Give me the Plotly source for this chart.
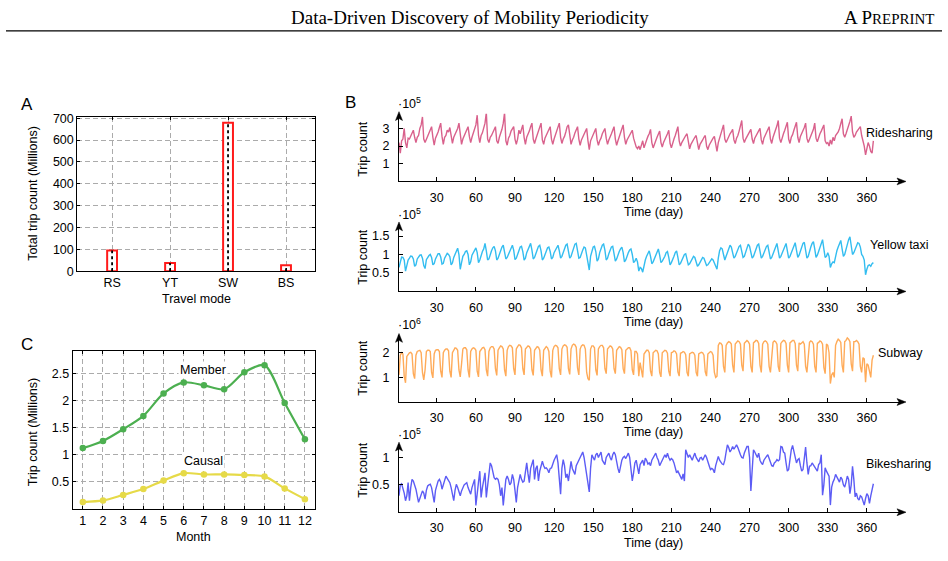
import plotly.graph_objects as go

W, H = 948, 561

# ---- panel A: total trips per mode (millions)
modes = ["RS", "YT", "SW", "BS"]
total_trips = [95, 37, 679, 27]

# ---- panel C: monthly bike trips (millions)
months = list(range(1, 13))
member = [1.125, 1.257, 1.473, 1.719, 2.134, 2.338, 2.284, 2.212, 2.524, 2.656, 1.959, 1.287]
causal = [0.128, 0.158, 0.26, 0.368, 0.524, 0.662, 0.638, 0.638, 0.626, 0.602, 0.38, 0.182]

# ---- panel B: daily trip counts, one row per week (Tue..Mon)
days = list(range(1, 366))
day_ticks = [30, 60, 90, 120, 150, 180, 210, 240, 270, 300, 330, 360]

ridesharing = [  # x 1e5
    2.2, 1.6, 2.3, 2.4, 3.0, 2.2, 1.9,
    2.45, 2.4, 2.6, 2.7, 2.9, 2.5, 2.2,
    2.5, 2.6, 3.0, 3.2, 3.65, 2.4, 2.2,
    2.4, 2.5, 2.7, 2.9, 3.1, 2.5, 2.05,
    2.45, 2.6, 2.8, 3.05, 3.3, 2.55, 2.1,
    2.5, 2.6, 2.9, 2.8, 3.05, 2.5, 2.15,
    2.5, 2.65, 2.85, 3.0, 3.3, 2.5, 2.1,
    2.4, 2.6, 2.8, 2.95, 3.1, 2.55, 2.2,
    2.5, 2.7, 2.9, 3.2, 3.75, 2.6, 2.2,
    2.6, 2.75, 3.0, 3.3, 3.9, 2.4, 2.2,
    2.5, 2.6, 2.8, 2.95, 3.1, 2.3, 2.15,
    2.5, 2.7, 2.95, 3.3, 3.9, 2.3, 2.05,
    2.45, 2.6, 2.85, 3.0, 3.1, 2.4, 2.1,
    2.4, 2.9, 2.7, 3.05, 3.2, 2.5, 2.1,
    2.5, 2.65, 2.85, 3.1, 3.3, 2.4, 2.15,
    2.4, 2.6, 2.8, 3.1, 3.3, 2.35, 2.1,
    2.45, 2.6, 2.75, 2.95, 3.1, 2.4, 2.1,
    2.4, 2.6, 2.85, 3.1, 3.3, 2.5, 2.15,
    2.4, 2.55, 2.8, 3.1, 3.2, 2.45, 2.1,
    2.35, 2.5, 2.75, 2.95, 3.1, 2.4, 2.05,
    2.35, 2.5, 2.7, 2.85, 3.0, 2.3, 1.8,
    2.3, 2.5, 2.65, 2.9, 3.0, 2.35, 2.05,
    2.3, 2.45, 2.7, 2.85, 3.0, 2.45, 2.1,
    2.35, 2.5, 2.7, 2.9, 3.1, 2.4, 2.05,
    2.3, 2.55, 2.75, 3.0, 3.2, 2.5, 2.1,
    2.35, 2.5, 2.6, 2.75, 2.9, 2.45, 2.1,
    1.95, 1.85, 2.0, 1.8, 2.05, 2.3, 1.9,
    2.2, 2.35, 2.55, 2.7, 2.95, 2.2, 1.9,
    2.15, 2.3, 2.5, 2.65, 2.85, 2.2, 1.95,
    2.2, 2.35, 2.5, 2.7, 2.9, 2.15, 1.9,
    2.25, 2.4, 2.6, 2.85, 3.1, 2.3, 2.0,
    2.2, 2.35, 2.5, 2.6, 2.7, 2.1, 1.85,
    2.1, 2.25, 2.4, 2.5, 2.6, 2.05, 1.8,
    2.1, 2.2, 2.35, 2.5, 2.6, 2.0, 1.8,
    2.05, 2.2, 2.35, 2.45, 2.55, 2.0, 1.7,
    2.2, 2.5, 2.7, 2.95, 3.2, 2.4, 2.2,
    2.4, 2.5, 2.7, 2.8, 2.95, 2.35, 2.15,
    2.45, 2.6, 2.85, 3.1, 3.45, 2.45, 2.2,
    2.4, 2.55, 2.7, 2.85, 2.95, 2.4, 2.15,
    2.45, 2.6, 2.75, 2.9, 3.0, 2.35, 2.1,
    2.45, 2.6, 2.8, 2.95, 3.1, 2.4, 2.15,
    2.5, 2.7, 2.9, 3.15, 3.45, 2.45, 2.2,
    2.5, 2.7, 2.9, 3.1, 3.35, 2.4, 2.15,
    2.5, 2.65, 2.9, 3.1, 3.35, 2.5, 2.2,
    2.55, 2.7, 2.9, 3.05, 3.3, 2.45, 2.2,
    2.4, 2.55, 2.75, 2.95, 3.3, 2.45, 2.25,
    2.5, 2.7, 2.85, 3.05, 3.2, 2.3, 2.15,
    2.2, 2.0, 2.35, 2.1, 2.5, 2.3, 2.6,
    2.7, 2.8, 3.0, 3.25, 3.55, 2.7, 2.5,
    2.7, 2.9, 3.1, 3.4, 3.7, 2.8, 2.5,
    2.6, 2.8, 2.9, 3.05, 3.1, 2.6, 2.3,
    2.0, 1.5, 1.8, 2.2, 2.0, 1.7, 1.6,
    2.3,
]

yellow_taxi = [  # x 1e5
    0.65, 0.78, 0.93, 0.92, 0.85, 0.55, 0.72,
    0.85, 0.9, 0.96, 0.95, 0.88, 0.68, 0.72,
    0.88, 0.93, 0.98, 0.99, 0.9, 0.7, 0.62,
    0.86, 0.92, 0.97, 1.0, 0.92, 0.72, 0.75,
    0.88, 0.95, 1.02, 1.02, 0.93, 0.74, 0.76,
    0.9, 0.96, 1.03, 1.0, 0.94, 0.72, 0.77,
    0.92, 1.0, 1.05, 1.17, 1.0, 0.6, 0.78,
    0.95, 1.0, 1.08, 1.1, 1.0, 0.72, 0.8,
    0.98, 1.05, 1.12, 1.18, 1.05, 0.78, 0.85,
    1.0, 1.08, 1.15, 1.3, 1.1, 0.85, 0.88,
    1.02, 1.1, 1.18, 1.22, 1.1, 0.85, 0.9,
    1.02, 1.12, 1.2, 1.25, 1.1, 0.88, 0.92,
    1.0, 1.1, 1.18, 1.25, 1.12, 0.86, 0.9,
    1.02, 1.1, 1.2, 1.22, 1.08, 0.85, 0.9,
    1.05, 1.15, 1.25, 1.3, 1.12, 0.88, 0.92,
    1.05, 1.12, 1.22, 1.25, 1.1, 0.85, 0.9,
    1.0, 1.1, 1.18, 1.2, 1.08, 0.88, 0.92,
    1.05, 1.12, 1.2, 1.25, 1.1, 0.9, 0.95,
    1.05, 1.15, 1.25, 1.28, 1.12, 0.9, 0.95,
    1.08, 1.18, 1.28, 1.3, 1.12, 0.9, 0.92,
    1.05, 1.12, 1.2, 1.18, 0.98, 0.72, 0.58,
    0.95, 1.1, 1.2, 1.22, 1.08, 0.82, 0.88,
    1.05, 1.15, 1.25, 1.28, 1.12, 0.85, 0.9,
    1.02, 1.1, 1.2, 1.22, 1.05, 0.82, 0.88,
    1.0, 1.08, 1.15, 1.2, 1.05, 0.8, 0.85,
    0.98, 1.05, 1.12, 1.15, 1.0, 0.78, 0.82,
    0.9, 0.8, 0.55, 0.65, 0.62, 0.52, 0.7,
    0.85, 0.95, 1.05, 1.1, 0.95, 0.75, 0.8,
    0.9, 1.0, 1.1, 1.15, 0.98, 0.78, 0.82,
    0.88, 0.95, 1.05, 1.08, 0.92, 0.72, 0.78,
    0.85, 0.95, 1.05, 1.1, 0.92, 0.72, 0.76,
    0.85, 0.92, 1.0, 1.02, 0.88, 0.72, 0.75,
    0.82, 0.88, 0.95, 0.92, 0.82, 0.68, 0.72,
    0.8, 0.85, 0.92, 0.9, 0.8, 0.7, 0.72,
    0.78, 0.85, 0.88, 0.85, 0.75, 0.68, 0.6,
    0.9, 1.1, 1.18, 1.15, 1.0, 0.85, 0.95,
    1.05, 1.15, 1.25, 1.2, 1.05, 0.9, 0.95,
    1.05, 1.15, 1.22, 1.25, 1.1, 0.92, 0.95,
    1.05, 1.15, 1.28, 1.22, 1.05, 0.9, 0.95,
    1.05, 1.12, 1.25, 1.28, 1.1, 0.9, 0.95,
    1.05, 1.15, 1.22, 1.25, 1.08, 0.88, 0.92,
    1.02, 1.12, 1.2, 1.3, 1.1, 0.9, 0.95,
    1.05, 1.15, 1.25, 1.3, 1.1, 0.9, 0.95,
    1.05, 1.15, 1.28, 1.32, 1.12, 0.92, 0.98,
    1.08, 1.18, 1.3, 1.33, 1.12, 0.9, 0.95,
    1.1, 1.2, 1.3, 1.35, 1.15, 0.92, 0.98,
    1.1, 1.2, 1.32, 1.4, 1.15, 0.92, 0.95,
    1.05, 0.95, 0.65, 0.75, 0.8, 0.78, 1.0,
    1.1, 1.2, 1.32, 1.38, 1.15, 0.95, 1.0,
    1.15, 1.25, 1.4, 1.48, 1.25, 1.0, 1.05,
    1.15, 1.25, 1.32, 1.3, 1.2, 1.0, 0.95,
    0.85, 0.45, 0.6, 0.7, 0.72, 0.68, 0.75,
    0.78,
]

subway = [  # x 1e6
    1.1, 1.9, 2.0, 1.95, 1.05, 0.78, 1.85,
    1.95, 2.0, 2.02, 1.95, 1.15, 0.95, 1.9,
    2.05, 2.08, 2.1, 2.0, 1.2, 0.9, 1.3,
    2.05, 2.1, 2.1, 2.05, 1.2, 0.98, 1.95,
    2.1, 2.12, 2.12, 2.05, 1.25, 1.0, 2.0,
    2.1, 2.15, 2.15, 2.08, 1.25, 1.0, 2.0,
    2.1, 2.2, 2.18, 2.1, 1.3, 1.02, 1.55,
    2.15, 2.2, 2.2, 2.12, 1.3, 1.0, 2.05,
    2.15, 2.2, 2.18, 2.1, 1.25, 1.02, 2.05,
    2.15, 2.2, 2.22, 2.12, 1.3, 1.05, 2.05,
    2.2, 2.25, 2.25, 2.15, 1.35, 1.08, 2.1,
    2.2, 2.28, 2.25, 2.15, 1.3, 1.05, 2.1,
    2.25, 2.3, 2.28, 2.2, 1.35, 1.1, 2.15,
    2.25, 2.32, 2.3, 2.2, 1.35, 1.1, 2.15,
    2.22, 2.28, 2.25, 2.15, 1.3, 1.08, 2.1,
    2.2, 2.25, 2.22, 2.1, 1.3, 1.05, 2.1,
    2.2, 2.25, 2.2, 2.05, 1.25, 1.0, 2.1,
    2.25, 2.3, 2.28, 2.2, 1.35, 1.1, 2.15,
    2.28, 2.32, 2.3, 2.22, 1.35, 1.12, 2.15,
    2.3, 2.35, 2.32, 2.22, 1.38, 1.1, 2.15,
    2.28, 2.32, 2.3, 2.15, 1.2, 0.95, 0.88,
    2.15, 2.28, 2.28, 2.2, 1.3, 1.08, 2.15,
    2.25, 2.3, 2.3, 2.2, 1.35, 1.15, 2.15,
    2.22, 2.28, 2.25, 2.15, 1.35, 1.15, 2.1,
    2.2, 2.25, 2.22, 2.12, 1.35, 1.15, 2.1,
    2.15, 2.2, 2.2, 2.08, 1.3, 1.1, 2.05,
    2.05, 1.95, 1.05, 1.6, 1.2, 1.0, 1.95,
    2.05, 2.1, 2.1, 2.0, 1.25, 1.05, 2.0,
    2.05, 2.1, 2.08, 1.95, 1.2, 1.02, 2.0,
    2.05, 2.1, 2.08, 1.98, 1.25, 1.05, 2.0,
    2.02, 2.08, 2.05, 1.95, 1.22, 1.05, 1.98,
    2.0, 2.05, 2.02, 1.92, 1.2, 1.05, 1.95,
    1.98, 2.02, 2.0, 1.9, 1.2, 1.05, 1.95,
    1.98, 2.02, 2.0, 1.9, 1.22, 1.05, 1.95,
    2.0, 2.05, 2.02, 1.9, 1.2, 1.0, 1.05,
    2.3, 2.4, 2.38, 2.3, 1.45, 1.2, 2.3,
    2.4, 2.45, 2.42, 2.35, 1.5, 1.2, 2.35,
    2.42, 2.48, 2.45, 2.35, 1.5, 1.25, 2.38,
    2.45, 2.5, 2.45, 2.35, 1.45, 1.2, 2.4,
    2.45, 2.5, 2.48, 2.38, 1.5, 1.2, 2.35,
    2.45, 2.48, 2.45, 2.35, 1.45, 1.2, 2.0,
    2.42, 2.48, 2.45, 2.35, 1.45, 1.22, 2.38,
    2.45, 2.5, 2.48, 2.38, 1.5, 1.2, 2.4,
    2.45, 2.5, 2.5, 2.38, 1.5, 1.25, 2.4,
    2.35, 2.4, 2.45, 2.35, 1.45, 1.2, 1.9,
    2.42, 2.48, 2.45, 2.35, 1.45, 1.2, 2.38,
    2.42, 2.48, 2.45, 2.35, 1.4, 1.15, 2.35,
    2.3, 2.0, 0.75, 1.1, 1.2, 1.0, 2.3,
    2.45, 2.55, 2.5, 2.42, 1.5, 1.2, 2.45,
    2.5, 2.6, 2.55, 2.45, 1.55, 1.25, 2.45,
    2.45, 2.5, 2.45, 2.35, 1.45, 1.2, 1.8,
    1.75, 0.8, 1.55, 1.5, 1.15, 1.0, 1.7,
    1.9,
]

bikesharing = [  # x 1e5
    0.3, 0.5, 0.52, 0.45, 0.35, 0.21, 0.3, 0.54, 0.21, 0.45,
    0.6, 0.57, 0.5, 0.42, 0.3, 0.18, 0.25, 0.33, 0.39, 0.35,
    0.24, 0.4, 0.48, 0.5, 0.51, 0.45, 0.3, 0.18, 0.4, 0.5,
    0.57, 0.6, 0.55, 0.42, 0.5, 0.58, 0.66, 0.62, 0.58, 0.54,
    0.45, 0.35, 0.21, 0.4, 0.51, 0.45, 0.35, 0.3, 0.39, 0.45,
    0.5, 0.52, 0.54, 0.45, 0.38, 0.33, 0.45, 0.55, 0.6, 0.125,
    0.4, 0.55, 0.75, 0.27, 0.45, 0.6, 0.72, 0.27, 0.5, 0.7,
    0.9, 0.85, 0.7, 0.63, 0.6, 0.62, 0.6, 0.5, 0.3, 0.45,
    0.125, 0.4, 0.6, 0.66, 0.6, 0.5, 0.54, 0.69, 0.6, 0.4,
    0.18, 0.45, 0.6, 0.69, 0.6, 0.55, 0.57, 0.75, 0.9, 0.7,
    0.54, 0.8, 0.9, 0.96, 0.6, 0.8, 0.85, 0.57, 0.75, 0.85,
    0.93, 0.85, 0.8, 0.81, 0.78, 0.72, 0.8, 0.81, 0.9, 0.95,
    1.0, 1.05, 0.9, 0.6, 0.33, 0.8, 0.96, 0.85, 0.63, 0.7,
    0.57, 0.75, 0.93, 0.8, 0.75, 0.69, 0.85, 0.9, 0.96, 1.0,
    1.05, 1.1, 1.0, 0.85, 0.7, 0.5, 0.37, 0.8, 1.05, 1.0,
    0.95, 1.05, 1.08, 1.0, 1.05, 1.1, 0.95, 0.9, 0.87, 1.0,
    1.05, 1.08, 1.0, 0.95, 1.05, 1.1, 1.05, 0.9, 0.8, 0.72,
    0.85, 0.95, 1.0, 1.02, 0.98, 1.05, 1.08, 1.0, 0.75, 0.57,
    0.72, 0.9, 0.95, 0.8, 0.7, 0.87, 0.9, 0.95, 0.85, 0.99,
    0.95, 0.88, 0.9, 0.85, 0.95, 1.0, 1.05, 1.08, 1.0, 0.95,
    0.85, 0.9, 0.92, 1.0, 1.05, 1.0, 1.08, 1.0, 0.95, 0.98,
    0.96, 0.9, 0.8, 0.72, 0.75, 0.7, 0.66, 0.6, 0.7, 0.57,
    1.14, 1.05, 1.0, 1.05, 0.98, 0.95, 1.02, 1.08, 1.0, 0.95,
    0.92, 0.99, 1.0, 0.95, 1.0, 1.05, 1.0, 0.9, 0.85, 0.78,
    0.8, 0.78, 0.72, 0.85, 0.95, 1.02, 0.95, 0.9, 0.88, 0.87,
    0.95, 1.1, 1.23, 1.18, 1.1, 1.14, 1.2, 1.15, 1.2, 1.23,
    1.18, 1.1, 1.05, 1.0, 0.99, 1.08, 1.15, 1.2, 1.2, 1.0,
    0.39, 0.8, 1.14, 1.1, 1.05, 1.0, 1.08, 0.95, 0.9, 0.87,
    0.95, 1.0, 1.02, 1.05, 0.98, 0.9, 0.85, 0.84, 0.9, 0.92,
    0.96, 0.94, 0.96, 1.2, 1.19, 1.1, 1.08, 0.9, 0.75, 0.78,
    1.0, 1.14, 1.22, 1.1, 1.02, 0.9, 0.96, 0.98, 0.85, 0.75,
    0.78, 1.0, 1.19, 0.9, 0.69, 0.84, 0.85, 0.9, 0.86, 0.84,
    0.8, 0.75, 0.87, 0.9, 1.05, 0.31, 0.5, 0.81, 0.75, 0.7,
    0.66, 0.13, 0.46, 0.55, 0.6, 0.69, 0.65, 0.6, 0.55, 0.64,
    0.6, 0.5, 0.46, 0.55, 0.66, 0.6, 0.34, 0.5, 0.84, 0.6,
    0.28, 0.35, 0.25, 0.22, 0.3, 0.28, 0.2, 0.13, 0.25, 0.34,
    0.3, 0.16, 0.3, 0.45, 0.52,
]

FONT = "Liberation Sans, Arial, sans-serif"
SERIF = "Liberation Serif, Times New Roman, serif"
FS = 12.5


def px(x):
    return x / W


def py(y):
    return 1 - y / H


fig = go.Figure()

# ---- panel A
fig.add_trace(go.Bar(
    x=modes, y=total_trips, width=0.17,
    marker=dict(color="white", line=dict(color="#ff1a1a", width=2)),
    xaxis="x", yaxis="y",
))
dot_x, dot_y = [], []
for m, v in zip(modes, total_trips):
    dot_x += [m, m, None]
    dot_y += [0, v, None]
fig.add_trace(go.Scatter(
    x=dot_x, y=dot_y, mode="lines",
    line=dict(color="black", width=1.8, dash="dot"),
    xaxis="x", yaxis="y",
))

# ---- panel C
fig.add_trace(go.Scatter(
    x=months, y=member, mode="lines+markers",
    line=dict(color="#4caf50", width=2.2, shape="spline", smoothing=0.8),
    marker=dict(size=6.5, color="#4caf50"),
    xaxis="x2", yaxis="y2",
))
fig.add_trace(go.Scatter(
    x=months, y=causal, mode="lines+markers",
    line=dict(color="#e6da48", width=2.2, shape="spline", smoothing=0.8),
    marker=dict(size=6.5, color="#e6da48"),
    xaxis="x2", yaxis="y2",
))

# ---- panel B
series = [
    ("Ridesharing", ridesharing, "#d9618c", 3, [1, 2, 3], ["1", "2", "3"], 3.95, "5", 100, 109, 180.3, 147, 130.7, 864),
    ("Yellow taxi", yellow_taxi, "#33bdf0", 4, [0.5, 1, 1.5], ["0.5", "1", "1.5"], 1.88, "5", 213.3, 221.7, 292.7, 257.3, 245, 868),
    ("Subway", subway, "#ffab59", 5, [1, 2], ["1", "2"], 2.78, "6", 325.7, 335.7, 405.7, 370.7, 355.7, 875.7),
    ("Bikesharing", bikesharing, "#5c5cf5", 6, [0.5, 1], ["0.5", "1"], 1.28, "5", 438.3, 446.7, 518.3, 475, 469, 864),
]

axis_font = dict(family=FONT, size=FS, color="black")
grid_common = dict(
    showline=True, linecolor="black", linewidth=1.1, mirror="ticks",
    ticks="inside", ticklen=3, tickcolor="black",
    showgrid=True, gridcolor="#ababab", griddash="5px,3px", gridwidth=1,
    zeroline=False, tickfont=axis_font,
)

layout = dict(
    width=W, height=H, margin=dict(l=0, r=0, t=0, b=0),
    paper_bgcolor="white", plot_bgcolor="white", showlegend=False,
    font=dict(family=FONT, size=FS, color="black"),
    xaxis=dict(domain=[px(77.3), px(315)], anchor="y", type="category",
               range=[-0.6, 3.5], **grid_common),
    yaxis=dict(domain=[py(272), py(114.3)], anchor="x", range=[0, 706],
               tickvals=[0, 100, 200, 300, 400, 500, 600, 700], **grid_common),
    xaxis2=dict(domain=[px(72.7), px(315)], anchor="y2", range=[0.5, 12.5],
                tickvals=months, **grid_common),
    yaxis2=dict(domain=[py(515), py(354)], anchor="x2", range=[0, 2.91],
                tickvals=[0.5, 1, 1.5, 2, 2.5], ticktext=["0.5", "1", "1.5", "2", "2.5"],
                **grid_common),
)

annotations = []
shapes = []

X0, X1 = 399, 906  # left / right (arrow tip) of the panel B axes


def arrow_right(x, y):
    return dict(type="path", xref="paper", yref="paper", fillcolor="black",
                line=dict(color="black", width=0.5),
                path=f"M {px(x)} {py(y)} L {px(x - 9)} {py(y - 3.5)} "
                     f"L {px(x - 7)} {py(y)} L {px(x - 9)} {py(y + 3.5)} Z")


def arrow_up(x, y):
    return dict(type="path", xref="paper", yref="paper", fillcolor="black",
                line=dict(color="black", width=0.5),
                path=f"M {px(x)} {py(y)} L {px(x - 3.5)} {py(y + 9)} "
                     f"L {px(x)} {py(y + 7)} L {px(x + 3.5)} {py(y + 9)} Z")


for name, vals, color, k, yt, ytt, ymax, expo, y_exp, y_top, y_bot, y_title, y_lab, x_lab in series:
    fig.add_trace(go.Scatter(
        x=days, y=vals, mode="lines", line=dict(color=color, width=1.4),
        xaxis=f"x{k}", yaxis=f"y{k}",
    ))
    layout[f"xaxis{k}"] = dict(
        domain=[px(X0), px(X1 - 2)], anchor=f"y{k}", range=[1, 388.5],
        showline=True, linecolor="black", linewidth=1.3,
        showgrid=False, zeroline=False,
        ticks="inside", ticklen=4, tickcolor="black", tickwidth=1,
        tickvals=day_ticks, tickfont=axis_font, ticklabelstandoff=4,
    )
    layout[f"yaxis{k}"] = dict(
        domain=[py(y_bot), py(y_top + 2)], anchor=f"x{k}", range=[0, ymax * (y_bot - y_top - 2) / (y_bot - y_top)],
        showline=True, linecolor="black", linewidth=1.3,
        showgrid=False, zeroline=False,
        ticks="inside", ticklen=4, tickcolor="black", tickwidth=1,
        tickvals=yt, ticktext=ytt, tickfont=axis_font, ticklabelstandoff=6,
    )
    shapes.append(arrow_right(X1, y_bot))
    shapes.append(arrow_up(X0, y_top))
    annotations.append(dict(
        xref="paper", yref="paper", x=px(396), y=py(y_exp), xanchor="left", yanchor="middle",
        text=f"·10<sup>{expo}</sup>", showarrow=False, font=axis_font,
    ))
    annotations.append(dict(
        xref="paper", yref="paper", x=px(363), y=py(y_title), xanchor="center", yanchor="middle",
        text="Trip count", textangle=-90, showarrow=False, font=axis_font,
    ))
    annotations.append(dict(
        xref="paper", yref="paper", x=px(653), y=py(y_bot + 31), xanchor="center", yanchor="middle",
        text="Time (day)", showarrow=False, font=axis_font,
    ))
    annotations.append(dict(
        xref="paper", yref="paper", x=px(x_lab), y=py(y_lab), xanchor="left", yanchor="middle",
        text=name, showarrow=False, font=axis_font,
    ))

# panel letters and titles
for txt, x, y in [("A", 26.7, 101.7), ("B", 350, 100), ("C", 26.7, 346.7)]:
    annotations.append(dict(xref="paper", yref="paper", x=px(x), y=py(y), xanchor="center",
                            yanchor="middle", text=txt, showarrow=False,
                            font=dict(family=FONT, size=17, color="black")))

for txt, x, y, ang in [
    ("Total trip count (Millions)", 33, 193, -90),
    ("Travel mode", 196, 300, 0),
    ("Trip count (Millions)", 33, 436.7, -90),
    ("Month", 193, 543.3, 0),
]:
    annotations.append(dict(xref="paper", yref="paper", x=px(x), y=py(y), xanchor="center",
                            yanchor="middle", text=txt, textangle=ang, showarrow=False,
                            font=axis_font))

for txt, x, y in [("Member", 203, 372.7), ("Causal", 203, 466)]:
    annotations.append(dict(xref="paper", yref="paper", x=px(x), y=py(y), xanchor="center",
                            yanchor="middle", text=txt, showarrow=False, bgcolor="white",
                            borderpad=1, font=axis_font))

# page header
annotations.append(dict(xref="paper", yref="paper", x=px(470), y=py(13), xanchor="center",
                        yanchor="middle", text="Data-Driven Discovery of Mobility Periodicity",
                        showarrow=False, font=dict(family=SERIF, size=19, color="black")))
annotations.append(dict(xref="paper", yref="paper", x=px(937), y=py(13), xanchor="right",
                        yanchor="middle",
                        text='A P<span style="font-size:15px">REPRINT</span>',
                        showarrow=False, font=dict(family=SERIF, size=19, color="black")))
shapes.append(dict(type="line", xref="paper", yref="paper", x0=px(6), x1=px(942),
                   y0=py(26.5), y1=py(26.5), line=dict(color="black", width=1.2)))

layout["annotations"] = annotations
layout["shapes"] = shapes
fig.update_layout(**layout)

# the page's default 8px body margin would shift the whole figure
fig.write_html("out.html", config={"displayModeBar": False},
               post_script="document.body.style.margin = '0';")
